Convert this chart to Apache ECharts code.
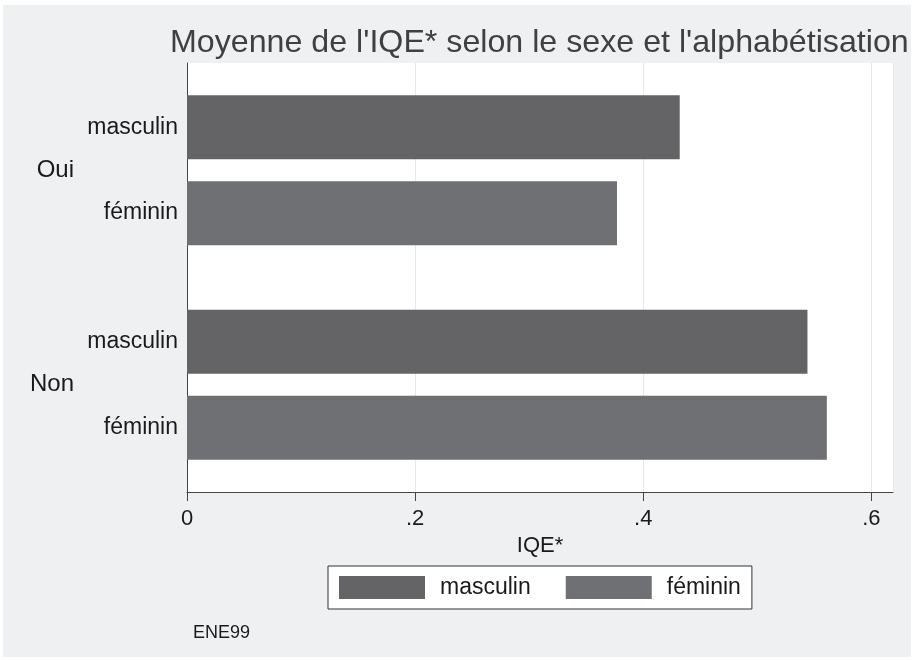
<!DOCTYPE html>
<html>
<head>
    <meta charset="utf-8">
    <title>IQE</title>
    <script src="https://cdn.jsdelivr.net/npm/echarts@6/dist/echarts.min.js"></script>
    <style>
        body { margin: 0; background: #fff; }
    </style>
</head>
<body>
    <div id="main" style="width: 914px;height:660px;"></div>

    <script type="text/javascript">

        var groups = ['Oui', 'Non'];
        var sexes = ['masculin', 'féminin'];
        var masculin = [0.432, 0.544];
        var feminin = [0.377, 0.561];
        var xTicks = [0, 0.2, 0.4, 0.6];

        // each group takes 5 slots on the axis: pad, masculin, gap, féminin, pad
        var subLabels = [], groupLabels = [], mData = [], fData = [];
        groups.forEach(function (g, i) {
            subLabels.push('', sexes[0], '', sexes[1], '');
            groupLabels.push('', '', g, '', '');
            mData.push(null, masculin[i], null, null, null);
            fData.push(null, null, null, feminin[i], null);
        });

        var font = 'Liberation Sans, Arial, Helvetica, sans-serif';
        var chart = echarts.init(document.getElementById('main'));

        var option = {
            animation: false,
            backgroundColor: '#fff',
            textStyle: { fontFamily: font },
            graphic: [{
                type: 'rect',
                z: -10,
                shape: { x: 3, y: 5, width: 908, height: 652 },
                style: { fill: '#eff0f2' }
            }, {
                type: 'text',
                left: 193,
                top: 624,
                style: { text: 'ENE99', fontSize: 18, fill: '#1a1a1a', fontFamily: font }
            }],
            title: {
                text: "Moyenne de l'IQE* selon le sexe et l'alphabétisation",
                left: 170,
                top: 27,
                padding: 0,
                textStyle: { fontSize: 32.2, fontWeight: 'normal', color: '#404040', fontFamily: font }
            },
            legend: {
                left: 328,
                top: 566,
                padding: [10, 11, 10, 11],
                backgroundColor: '#fff',
                borderColor: '#333',
                borderWidth: 1,
                borderRadius: 0,
                itemWidth: 86,
                itemHeight: 23,
                itemGap: 35,
                icon: 'rect',
                data: sexes,
                textStyle: { fontSize: 23, color: '#1a1a1a', padding: [0, 0, 0, 10] }
            },
            grid: {
                left: 187,
                right: 21,
                top: 63,
                bottom: 168,
                show: true,
                backgroundColor: '#fff',
                borderWidth: 0,
                containLabel: false
            },
            xAxis: {
                type: 'value',
                min: 0,
                max: 0.619,
                interval: 0.2,
                name: 'IQE*',
                nameLocation: 'middle',
                nameGap: 36,
                nameTextStyle: { fontSize: 22, color: '#1a1a1a' },
                axisLine: { show: true, lineStyle: { color: '#444', width: 1 } },
                axisTick: { show: true, length: 9, lineStyle: { color: '#444' } },
                axisLabel: {
                    fontSize: 22,
                    color: '#1a1a1a',
                    margin: 16,
                    showMaxLabel: false,
                    formatter: function (v) {
                        if (xTicks.indexOf(Math.round(v * 10) / 10) < 0) return '';
                        return v === 0 ? '0' : String(v).replace(/^0/, '');
                    }
                },
                splitLine: { show: true, lineStyle: { color: '#e9e9e9', width: 1 } }
            },
            yAxis: [{
                type: 'category',
                inverse: true,
                data: subLabels,
                axisLine: { show: true, lineStyle: { color: '#444', width: 1 } },
                axisTick: { show: false },
                axisLabel: { fontSize: 23, color: '#1a1a1a', margin: 9, interval: 0, padding: [4, 0, 0, 0] },
                splitLine: { show: false }
            }, {
                type: 'category',
                inverse: true,
                position: 'left',
                offset: 105,
                data: groupLabels,
                axisLine: { show: false },
                axisTick: { show: false },
                axisLabel: { fontSize: 24, color: '#1a1a1a', margin: 8, interval: 0, padding: [3, 0, 0, 0] },
                splitLine: { show: false }
            }],
            series: [{
                name: sexes[0],
                type: 'bar',
                yAxisIndex: 0,
                barWidth: 64,
                barGap: '-100%',
                itemStyle: { color: '#646466' },
                data: mData
            }, {
                name: sexes[1],
                type: 'bar',
                yAxisIndex: 0,
                barWidth: 64,
                barGap: '-100%',
                itemStyle: { color: '#6f7074' },
                data: fData
            }]
        };

        chart.setOption(option);

    </script>
</body>
</html>
